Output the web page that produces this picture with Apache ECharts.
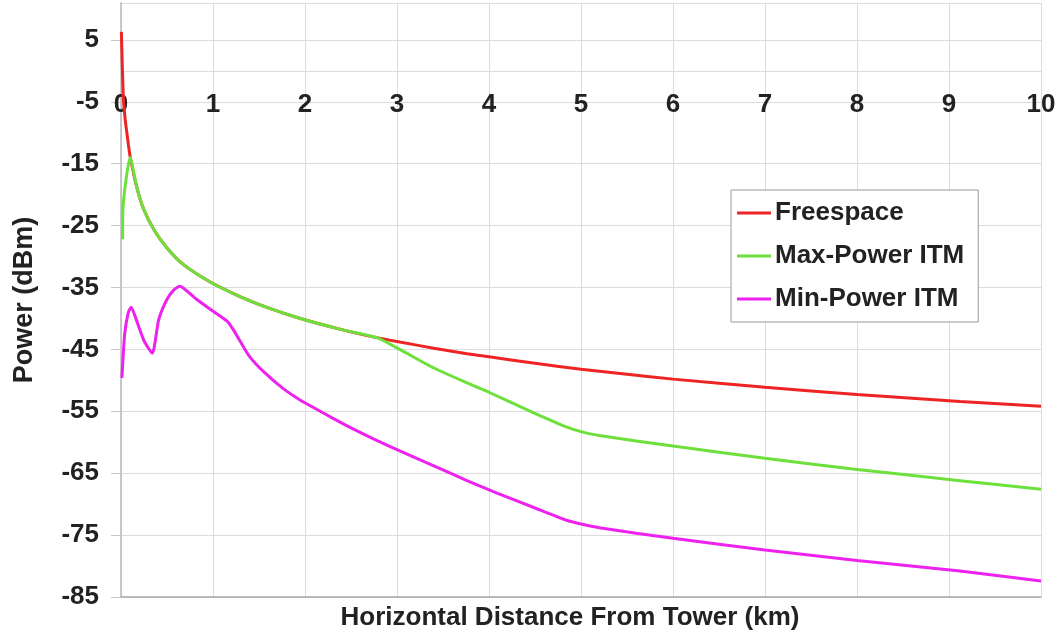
<!DOCTYPE html>
<html>
<head>
<meta charset="utf-8">
<script src="https://cdn.jsdelivr.net/npm/echarts@6/dist/echarts.min.js"></script>
<style>
html,body{margin:0;padding:0;background:#fff;}
#chart{width:1061px;height:636px;}
</style>
</head>
<body>
<div id="chart"></div>
<script>
// Data (km, dBm)
var seriesNames = ['Freespace', 'Max-Power ITM', 'Min-Power ITM'];

var freeKm  = [0.004, 0.01, 0.018, 0.027, 0.045, 0.062, 0.08, 0.1, 0.17, 0.245, 0.36, 0.5, 0.68, 0.97, 1.3, 1.6, 1.95, 2.4, 2.78, 3.03, 3.4, 3.76, 4.0, 4.48, 5.0, 5.5, 6, 7, 8, 9.12, 10];
var freeDbm = [6.3, 3.0, -1.0, -4.8, -7.8, -9.8, -11.9, -13.9, -18.7, -22.3, -25.7, -28.6, -31.3, -34.1, -36.5, -38.3, -40.0, -41.8, -43.1, -43.8, -44.8, -45.7, -46.2, -47.2, -48.2, -49.0, -49.8, -51.1, -52.3, -53.4, -54.2];

var maxKm  = [0.018, 0.022, 0.1, 0.17, 0.245, 0.36, 0.5, 0.68, 0.97, 1.3, 1.6, 1.95, 2.4, 2.78, 3.03, 3.4, 3.76, 4.01, 4.48, 4.84, 5.03, 5.2, 5.6, 6, 7, 8, 9.12, 10];
var maxDbm = [-27.2, -22, -14, -18.7, -22.3, -25.7, -28.6, -31.3, -34.1, -36.5, -38.3, -40.0, -41.8, -43.1, -45.0, -48.0, -50.4, -52.0, -55.2, -57.5, -58.4, -58.9, -59.8, -60.6, -62.6, -64.4, -66.2, -67.6];

var minKm  = [0.01, 0.04, 0.08, 0.11, 0.15, 0.25, 0.34, 0.41, 0.5, 0.58, 0.64, 0.72, 0.82, 0.97, 1.15, 1.22, 1.3, 1.4, 1.55, 1.76, 1.95, 2.13, 2.3, 2.49, 2.75, 3.03, 3.4, 3.76, 4.1, 4.48, 4.84, 5.06, 5.2, 5.6, 6, 7, 8, 9.12, 10];
var minDbm = [-49.6, -42.5, -39.0, -38.2, -39.5, -43.6, -45.6, -40.2, -36.9, -35.3, -34.8, -35.6, -36.9, -38.5, -40.4, -41.8, -43.8, -46.2, -48.6, -51.3, -53.2, -54.7, -56.1, -57.6, -59.5, -61.4, -63.8, -66.2, -68.3, -70.5, -72.6, -73.4, -73.8, -74.7, -75.5, -77.4, -79.1, -80.8, -82.4];

var xTicks = {min: 0, max: 10, interval: 1};
var yTicks = {min: -85, max: 11, interval: 10};

function pairs(xs, ys) { return xs.map(function (x, i) { return [x, ys[i]]; }); }

var FONT = 'Liberation Sans';
var chart = echarts.init(document.getElementById('chart'), null, {renderer: 'canvas'});

var option = {
  backgroundColor: '#ffffff',
  animation: false,
  grid: {left: 121, right: 20, top: 2.8, bottom: 38, containLabel: false},
  legend: {
    orient: 'vertical',
    left: 731, top: 190,
    backgroundColor: '#ffffff',
    borderColor: '#9a9a9a', borderWidth: 1,
    padding: [10, 14, 10, 6],
    itemGap: 17,
    itemWidth: 34, itemHeight: 3,
    icon: 'rect',
    textStyle: {fontFamily: FONT, fontWeight: 'bold', fontSize: 26, color: '#222', padding: [0, 0, 0, -1]},
    data: seriesNames
  },
  xAxis: [{
    type: 'value', position: 'bottom',
    min: xTicks.min, max: xTicks.max, interval: xTicks.interval,
    axisLine: {show: true, onZero: false, lineStyle: {color: '#a8a8a8', width: 1.5}},
    axisTick: {show: false},
    axisLabel: {show: false},
    splitLine: {show: true, lineStyle: {color: '#dcdcdc', width: 1}},
    name: 'Horizontal Distance From Tower (km)',
    nameLocation: 'middle', nameGap: 8,
    nameTextStyle: {fontFamily: FONT, fontWeight: 'bold', fontSize: 26, color: '#222', padding: [0, 22, 0, 0]}
  }, {
    type: 'value', position: 'bottom', offset: -496,
    min: xTicks.min, max: xTicks.max, interval: xTicks.interval,
    axisLine: {show: false, onZero: false},
    axisTick: {show: false},
    splitLine: {show: false},
    axisLabel: {
      show: true, margin: 4, verticalAlign: 'middle',
      fontFamily: FONT, fontWeight: 'bold', fontSize: 26, color: '#222'
    }
  }],
  yAxis: {
    type: 'value',
    min: yTicks.min, max: yTicks.max, interval: yTicks.interval,
    axisLine: {show: true, lineStyle: {color: '#b8b8b8', width: 1.5}},
    axisTick: {show: true, length: 10, lineStyle: {color: '#c8c8c8'}},
    axisLabel: {
      showMaxLabel: false, margin: 22,
      fontFamily: FONT, fontWeight: 'bold', fontSize: 26, color: '#222'
    },
    splitLine: {show: true, lineStyle: {color: '#dcdcdc', width: 1}},
    name: 'Power (dBm)',
    nameLocation: 'middle', nameGap: 83, nameRotate: 90,
    nameTextStyle: {fontFamily: FONT, fontWeight: 'bold', fontSize: 27, color: '#222'}
  },
  series: [{
    name: seriesNames[0], type: 'line', symbol: 'none',
    smooth: 0.2,
    data: pairs(freeKm, freeDbm),
    lineStyle: {color: '#ee2424', width: 3}, itemStyle: {color: '#ee2424'},
    z: 3,
    markLine: {
      silent: true, symbol: 'none', label: {show: false},
      lineStyle: {color: '#dcdcdc', width: 1, type: 'solid'},
      emphasis: {disabled: true},
      data: [{yAxis: 0}], z: 1
    }
  }, {
    name: seriesNames[1], type: 'line', symbol: 'none',
    smooth: 0.2,
    data: pairs(maxKm, maxDbm),
    lineStyle: {color: '#6ee03c', width: 3}, itemStyle: {color: '#6ee03c'},
    z: 4
  }, {
    name: seriesNames[2], type: 'line', symbol: 'none',
    smooth: 0.2,
    data: pairs(minKm, minDbm),
    lineStyle: {color: '#ee22ee', width: 3}, itemStyle: {color: '#ee22ee'},
    z: 5
  }]
};
chart.setOption(option);
</script>
</body>
</html>
